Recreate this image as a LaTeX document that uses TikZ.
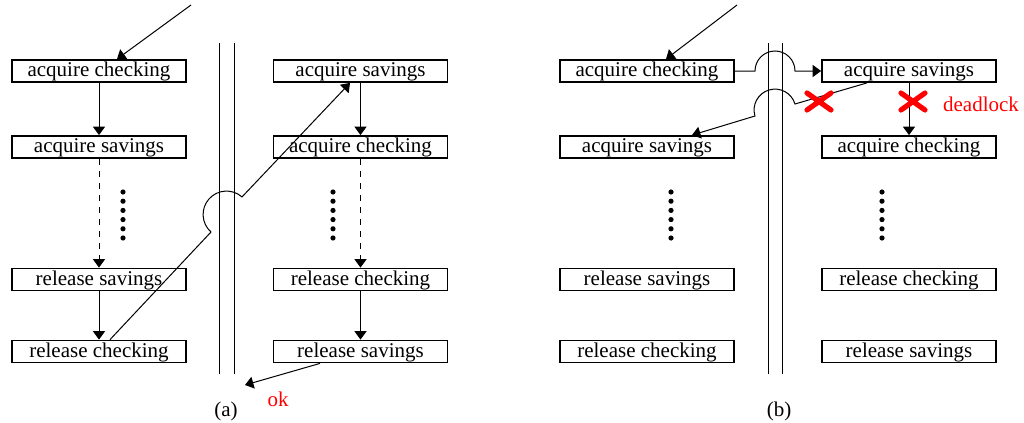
\documentclass[tikz,border=0pt]{standalone}
\usepackage{fontspec}
\setmainfont{Liberation Serif}
\usetikzlibrary{positioning,calc,arrows.meta}
\definecolor{LockRed}{RGB}{255,0,0}

\tikzset{
  op/.style={draw, line width=0.9pt, minimum width=87pt, minimum height=11pt, inner sep=0pt,
    text height=7.7pt, text depth=1.8pt},
  flow/.style={line width=0.5pt, -{Triangle[length=4.2pt,width=6pt]}},
  wall/.style={line width=0.5pt},
  cross/.style={LockRed, line width=2.6pt, line cap=round},
}

\begin{document}
\begin{tikzpicture}[x=0.5pt, y=0.5pt, every node/.style={font=\fontsize{10.5}{12}\selectfont}]
  \useasboundingbox (0,0) rectangle (1024,-423);
  % (a) thread 1
  \node[op] (l1) at (99,-71)    {acquire checking};
  \node[op] (l2) at (99,-147)   {acquire savings};
  \node[op] (l3) at (99,-279.5) {release savings};
  \node[op] (l4) at (99,-351.5) {release checking};
  % (a) thread 2
  \node[op] (r1) at (360.5,-71)    {acquire savings};
  \node[op] (r2) at (360.5,-147)   {acquire checking};
  \node[op] (r3) at (360.5,-279.5) {release checking};
  \node[op] (r4) at (360.5,-351.5) {release savings};
  % (b) thread 1
  \node[op] (bl1) at (647,-71)    {acquire checking};
  \node[op] (bl2) at (647,-147)   {acquire savings};
  \node[op] (bl3) at (647,-279.5) {release savings};
  \node[op] (bl4) at (647,-351.5) {release checking};
  % (b) thread 2
  \node[op] (br1) at (909,-71)    {acquire savings};
  \node[op] (br2) at (909,-147)   {acquire checking};
  \node[op] (br3) at (909,-279.5) {release checking};
  \node[op] (br4) at (909,-351.5) {release savings};

  % thread boundaries
  \draw[wall] (219,-43) -- (219,-374);
  \draw[wall] (234,-43) -- (234,-374);
  \draw[wall] (768,-43) -- (768,-374);
  \draw[wall] (782,-43) -- (782,-374);

  % elided steps
  \foreach \x in {123,333,671,882}
    \foreach \y in {192,201.2,210.4,219.6,228.8,238}
      \fill (\x,-\y) circle (2.6);

  % (a) serial run
  \coordinate (startA) at (191,-5);
  \coordinate (okTip) at (245,-385);
  \draw[flow] (startA) -- ($(l1.north)+(18,0)$);
  \draw[flow] (l1) -- (l2);
  \draw[flow, dashed] (l2) -- (l3);
  \draw[flow] (l3) -- (l4);
  \draw[flow] ($(l4.north)+(11,0)$) -- (211,-232)
    arc[start angle=228.5, end angle=48.5, radius=23.4] -- ($(r1.south)+(-10.5,0)$);
  \draw[flow] (r1) -- (r2);
  \draw[flow, dashed] (r2) -- (r3);
  \draw[flow] (r3) -- (r4);
  \draw[flow] ($(r4.south)+(-40.5,0)$) -- (okTip);
  \node[LockRed] (ok) at (278,-399) {ok};
  \node (capA) at (226,-411) {(a)};

  % (b) interleaved run
  \coordinate (startB) at (737,-5);
  \draw[flow] (startB) -- ($(bl1.north)+(19,0)$);
  \draw[flow] (bl1.east) -- (755,-71)
    arc[start angle=180, end angle=0, radius=20] -- (br1.west);
  \draw[flow] ($(br1.south)+(-42,0)$) -- (795,-104)
    arc[start angle=16.7, end angle=196.7, radius=20.9] -- ($(bl2.north)+(45,0)$);
  \draw[flow] (br1) -- (br2);
  \draw[cross] (807,-93) -- (831,-110) (807,-110) -- (831,-93);
  \draw[cross] (901,-93) -- (925,-110) (901,-110) -- (925,-93);
  \node[LockRed] (dl) at (981,-104) {deadlock};
  \node (capB) at (779,-411) {(b)};
\end{tikzpicture}
\end{document}
